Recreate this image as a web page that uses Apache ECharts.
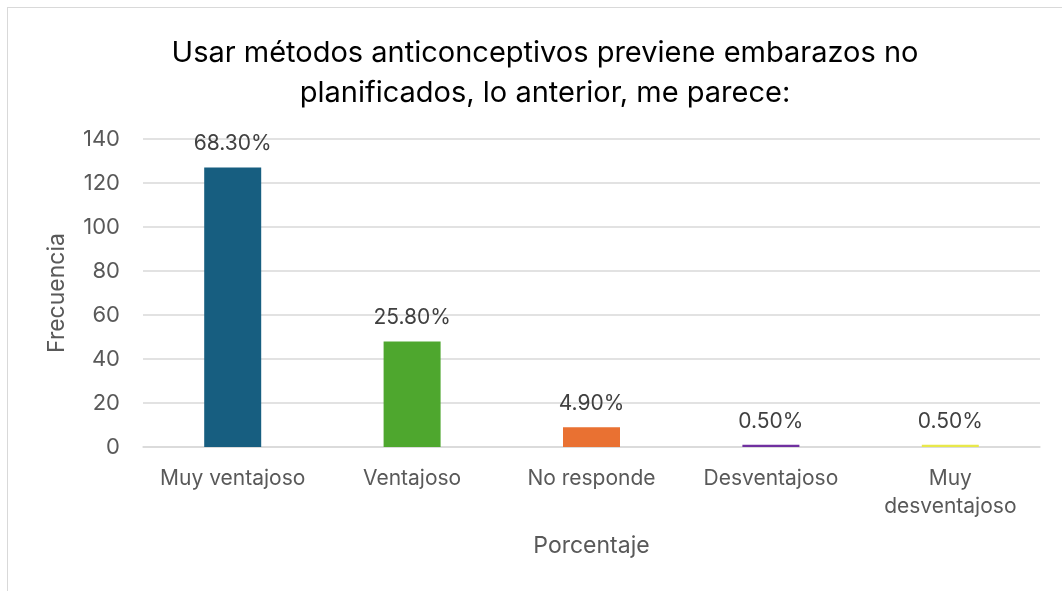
<!DOCTYPE html>
<html>
<head>
<meta charset="utf-8">
<script src="https://cdn.jsdelivr.net/npm/echarts@6/dist/echarts.min.js"></script>
<style>
  html, body { margin:0; padding:0; background:#fff; }
  #frame { position:absolute; left:7px; top:7px; width:1062px; height:591px; border:1px solid #d9d9d9; box-sizing:border-box; }
  #chart { position:absolute; left:0; top:0; width:1062px; height:591px; }
</style>
</head>
<body>
<div id="frame"></div>
<div id="chart"></div>
<script>
// categorias y valores
var categorias = ["Muy ventajoso", "Ventajoso", "No responde", "Desventajoso", "Muy\ndesventajoso"];
var frecuencia = [127, 48, 9, 1, 1];
var porcentaje = ["68.30%", "25.80%", "4.90%", "0.50%", "0.50%"];
var colores = ["#175e80", "#4ea72e", "#e97132", "#7030a0", "#e8e84a"];

var datos = [];
for (var i = 0; i < frecuencia.length; i++) {
  datos.push({
    value: frecuencia[i],
    itemStyle: { color: colores[i] },
    label: { formatter: porcentaje[i] }
  });
}

var option = {
  animation: false,
  title: {
    text: "Usar métodos anticonceptivos previene embarazos no\nplanificados, lo anterior, me parece:",
    left: 540,
    textAlign: "center",
    top: 28,
    textStyle: { fontFamily: "Inter", fontSize: 29, fontWeight: "normal", color: "#000", lineHeight: 40 }
  },
  grid: { left: 143, right: 22, top: 139, bottom: 144 },
  xAxis: {
    type: "category",
    data: categorias,
    name: "Porcentaje",
    nameLocation: "middle",
    nameGap: 88,
    nameTextStyle: { fontFamily: "Inter", fontSize: 23, color: "#595959" },
    axisLine: { show: true, lineStyle: { color: "#d9d9d9", width: 1.5 } },
    axisTick: { show: false },
    axisLabel: { fontFamily: "Inter", fontSize: 21, color: "#595959", margin: 18, lineHeight: 28, interval: 0 }
  },
  yAxis: {
    type: "value",
    min: 0,
    max: 140,
    interval: 20,
    name: "Frecuencia",
    nameLocation: "middle",
    nameGap: 74,
    nameTextStyle: { fontFamily: "Inter", fontSize: 23, color: "#595959" },
    axisLine: { show: false },
    axisTick: { show: false },
    axisLabel: { fontFamily: "Inter", fontSize: 22, color: "#595959", margin: 23 },
    splitLine: { lineStyle: { color: "#d9d9d9", width: 1.5 } }
  },
  series: [{
    type: "bar",
    data: datos,
    barWidth: 57,
    label: {
      show: true,
      position: "top",
      distance: 13,
      fontFamily: "Inter",
      fontSize: 21,
      color: "#404040"
    }
  }]
};

var mychart = echarts.init(document.getElementById("chart"));
mychart.setOption(option);
</script>
</body>
</html>
